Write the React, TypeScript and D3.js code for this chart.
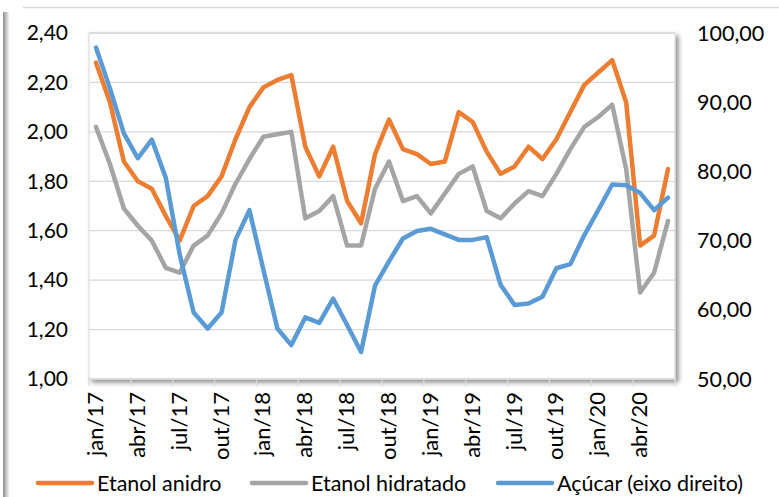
import React, { useEffect, useRef } from 'react';
import * as d3 from 'd3';

const months = [
  'jan/17', 'fev/17', 'mar/17', 'abr/17', 'mai/17', 'jun/17', 'jul/17', 'ago/17', 'set/17', 'out/17', 'nov/17', 'dez/17',
  'jan/18', 'fev/18', 'mar/18', 'abr/18', 'mai/18', 'jun/18', 'jul/18', 'ago/18', 'set/18', 'out/18', 'nov/18', 'dez/18',
  'jan/19', 'fev/19', 'mar/19', 'abr/19', 'mai/19', 'jun/19', 'jul/19', 'ago/19', 'set/19', 'out/19', 'nov/19', 'dez/19',
  'jan/20', 'fev/20', 'mar/20', 'abr/20', 'mai/20', 'jun/20',
];

const etanolAnidro = [
  2.28, 2.12, 1.88, 1.80, 1.77, 1.66, 1.56, 1.70, 1.74, 1.82, 1.97, 2.10,
  2.18, 2.21, 2.23, 1.94, 1.82, 1.94, 1.72, 1.63, 1.91, 2.05, 1.93, 1.91,
  1.87, 1.88, 2.08, 2.04, 1.92, 1.83, 1.86, 1.94, 1.89, 1.97, 2.08, 2.19,
  2.24, 2.29, 2.12, 1.54, 1.58, 1.85,
];

const etanolHidratado = [
  2.02, 1.87, 1.69, 1.62, 1.56, 1.45, 1.43, 1.54, 1.58, 1.67, 1.79, 1.89,
  1.98, 1.99, 2.00, 1.65, 1.68, 1.74, 1.54, 1.54, 1.77, 1.88, 1.72, 1.74,
  1.67, 1.75, 1.83, 1.86, 1.68, 1.65, 1.71, 1.76, 1.74, 1.83, 1.93, 2.02,
  2.06, 2.11, 1.85, 1.35, 1.43, 1.64,
];

const acucar = [
  97.9, 92.0, 85.5, 81.9, 84.6, 79.1, 68.0, 59.6, 57.3, 59.6, 70.1, 74.4,
  65.8, 57.3, 54.9, 58.9, 58.1, 61.6, 57.8, 53.9, 63.5, 67.0, 70.3, 71.4,
  71.7, 70.9, 70.1, 70.1, 70.5, 63.6, 60.7, 60.9, 61.9, 66.0, 66.6, 70.8,
  74.4, 78.1, 78.0, 76.9, 74.4, 76.2,
];

const leftTicks = [1.0, 1.2, 1.4, 1.6, 1.8, 2.0, 2.2, 2.4];
const rightTicks = [50, 60, 70, 80, 90, 100];

const FONT = 'Lato, "Open Sans", sans-serif';

const App = () => {
  const ref = useRef<SVGSVGElement>(null);

  useEffect(() => {
    if (!ref.current) return;
    const svg = d3.select(ref.current);
    svg.selectAll('*').remove();

    const width = 779;
    const height = 497;
    const plot = { left: 89, right: 675, top: 33, bottom: 379 };

    const fmt = d3.formatLocale({ decimal: ',', thousands: '.', grouping: [3], currency: ['R$', ''] }).format('.2f');

    const x = d3.scaleBand<string>().domain(months).range([plot.left, plot.right]).padding(0);
    const yLeft = d3.scaleLinear().domain([1, 2.4]).range([plot.bottom, plot.top]);
    const yRight = d3.scaleLinear().domain([50, 100]).range([plot.bottom, plot.top]);
    const cx = (m: string) => (x(m) as number) + x.bandwidth() / 2;

    const defs = svg.append('defs');
    const grad = defs.append('linearGradient').attr('id', 'leftbar').attr('x1', 0).attr('x2', 1);
    grad.append('stop').attr('offset', 0).attr('stop-color', '#8c8c8c');
    grad.append('stop').attr('offset', 1).attr('stop-color', '#f2f2f2');
    const shadow = defs.append('filter').attr('id', 'shadow')
      .attr('x', '-5%').attr('y', '-5%').attr('width', '115%').attr('height', '115%');
    shadow.append('feDropShadow')
      .attr('dx', 3).attr('dy', 3).attr('stdDeviation', 2.5)
      .attr('flood-color', '#000').attr('flood-opacity', 0.45);

    svg.append('rect').attr('width', width).attr('height', height).attr('fill', '#fff');

    // frame bits from the original screenshot
    svg.append('line')
      .attr('x1', 23).attr('x2', width).attr('y1', 7.5).attr('y2', 7.5)
      .attr('stroke', '#d9d9d9').attr('stroke-width', 1.5);
    svg.append('rect')
      .attr('x', 3).attr('y', 12).attr('width', 6).attr('height', height - 12)
      .attr('fill', 'url(#leftbar)');

    // plot area with shadow
    svg.append('rect')
      .attr('x', plot.left).attr('y', plot.top)
      .attr('width', plot.right - plot.left).attr('height', plot.bottom - plot.top)
      .attr('fill', '#fff').attr('stroke', '#d9d9d9').attr('stroke-width', 1)
      .attr('filter', 'url(#shadow)');

    // gridlines
    svg.append('g').selectAll('line')
      .data(leftTicks)
      .enter()
      .append('line')
      .attr('x1', plot.left).attr('x2', plot.right)
      .attr('y1', d => yLeft(d)).attr('y2', d => yLeft(d))
      .attr('stroke', '#d9d9d9').attr('stroke-width', 1.3);

    // x axis ticks every 3 months
    const quarterIdx = months.map((m, i) => i).filter(i => i % 3 === 0);
    svg.append('g').selectAll('line')
      .data([...quarterIdx, months.length])
      .enter()
      .append('line')
      .attr('x1', i => i < months.length ? (x(months[i]) as number) : plot.right)
      .attr('x2', i => i < months.length ? (x(months[i]) as number) : plot.right)
      .attr('y1', plot.bottom).attr('y2', plot.bottom + 7)
      .attr('stroke', '#d9d9d9').attr('stroke-width', 1.3);

    // left axis labels
    svg.append('g').selectAll('text')
      .data(leftTicks)
      .enter()
      .append('text')
      .text(d => fmt(d))
      .attr('x', 68).attr('y', d => yLeft(d))
      .attr('dy', '0.35em')
      .attr('text-anchor', 'end')
      .attr('fill', '#000')
      .style('font-family', FONT).style('font-size', '21px');

    // right axis labels
    svg.append('g').selectAll('text')
      .data(rightTicks)
      .enter()
      .append('text')
      .text(d => fmt(d))
      .attr('x', 697).attr('y', d => yRight(d))
      .attr('dy', '0.35em')
      .attr('text-anchor', 'start')
      .attr('fill', '#000')
      .style('font-family', FONT).style('font-size', '21.5px');

    // x labels, rotated
    svg.append('g').selectAll('text')
      .data(quarterIdx)
      .enter()
      .append('text')
      .text(i => months[i])
      .attr('transform', i => `translate(${cx(months[i]) + 7},392) rotate(-90)`)
      .attr('text-anchor', 'end')
      .attr('fill', '#000')
      .style('font-family', FONT).style('font-size', '22px');

    // series
    const series = [
      { name: 'Etanol anidro', values: etanolAnidro, color: '#ED7D31', y: yLeft },
      { name: 'Etanol hidratado', values: etanolHidratado, color: '#A5A5A5', y: yLeft },
      { name: 'Açúcar (eixo direito)', values: acucar, color: '#5B9BD5', y: yRight },
    ];

    series.forEach(s => {
      const lineGen = d3.line<number>()
        .x((d, i) => cx(months[i]))
        .y(d => s.y(d));
      svg.append('path')
        .datum(s.values)
        .attr('fill', 'none')
        .attr('stroke', s.color)
        .attr('stroke-width', 4.5)
        .attr('stroke-linejoin', 'round')
        .attr('stroke-linecap', 'round')
        .attr('d', lineGen);
    });

    // legend
    const legendX = [38, 252, 498];
    const legend = svg.append('g');
    series.forEach((s, i) => {
      legend.append('line')
        .attr('x1', legendX[i]).attr('x2', legendX[i] + 54)
        .attr('y1', 483).attr('y2', 483)
        .attr('stroke', s.color).attr('stroke-width', 4.5)
        .attr('stroke-linecap', 'round');
      legend.append('text')
        .text(s.name)
        .attr('x', legendX[i] + 59).attr('y', 483)
        .attr('dy', '0.35em')
        .attr('fill', '#000')
        .style('font-family', FONT).style('font-size', '21.5px');
    });
  }, []);

  return (
    <div style={{ position: 'fixed', left: 0, top: 0 }}>
      <svg ref={ref} width="779" height="497" style={{ display: 'block' }}></svg>
    </div>
  );
};

export default App;
